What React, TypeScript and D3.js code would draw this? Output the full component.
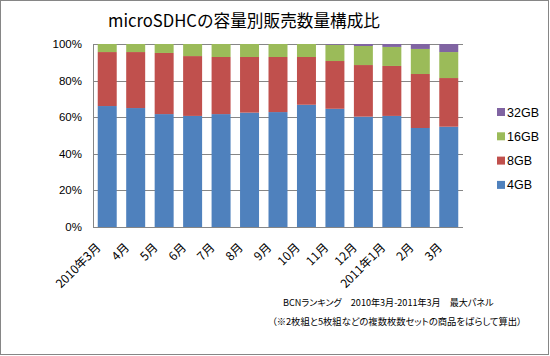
import React, { useLayoutEffect, useRef, useState } from "react";
import * as d3 from "d3";

const categories = ["2010年3月", "4月", "5月", "6月", "7月", "8月", "9月", "10月", "11月", "12月", "2011年1月", "2月", "3月"];
const series = ["4GB", "8GB", "16GB", "32GB"];
const gb4 = [66.1, 65.0, 61.7, 60.7, 61.7, 62.5, 62.8, 66.8, 64.6, 60.3, 60.7, 54.1, 54.8];
const gb8 = [29.5, 30.6, 33.4, 32.7, 31.2, 30.4, 30.1, 26.1, 26.1, 28.2, 27.3, 29.5, 26.6];
const gb16 = [4.4, 4.4, 4.9, 6.6, 7.1, 7.1, 7.1, 7.1, 8.9, 10.4, 10.4, 13.7, 14.2];
const gb32 = [0, 0, 0, 0, 0, 0, 0, 0, 0.4, 1.1, 1.6, 2.7, 4.4];
const yTicks = [0, 20, 40, 60, 80, 100];
const colors = ["#4F81BD", "#C0504D", "#9BBB59", "#8064A2"];
const title = "microSDHCの容量別販売数量構成比";
const note1 = "BCNランキング　2010年3月-2011年3月　最大パネル";
const note2 = "（※2枚組と5枚組などの複数枚数セットの商品をばらして算出）";

const JP = "'Noto Sans CJK JP', 'Liberation Sans', sans-serif";
const LAT = "'Liberation Sans', Arial, sans-serif";

function FitText({ x, y, target, base, children }: { x: number; y: number; target: number; base: number; children: string }) {
  const ref = useRef<SVGTextElement>(null);
  const [size, setSize] = useState(base);
  useLayoutEffect(() => {
    if (ref.current) {
      const len = ref.current.getComputedTextLength();
      if (len > 0) setSize(Math.min(base, (base * target) / len));
    }
  }, []);
  return (
    <text ref={ref} x={x} y={y} fontFamily={JP} fontSize={size} style={{ fontFeatureSettings: "'palt'" }}>{children}</text>
  );
}

export default function App() {
  const W = 550, H = 356;
  const left = 93, right = 463, top = 44, bottom = 227;
  const rows = categories.map((c, i) => ({ cat: c, "4GB": gb4[i], "8GB": gb8[i], "16GB": gb16[i], "32GB": gb32[i] }));
  const stacked = d3.stack<any>().keys(series)(rows);
  const x = d3.scaleBand<string>().domain(categories).range([left, right]).paddingInner(0.333).paddingOuter(0.1665);
  const y = d3.scaleLinear().domain([0, 100]).range([bottom, top]);
  const legendOrder = [3, 2, 1, 0];
  return (
    <svg width={W} height={H} style={{ position: "absolute", left: 0, top: 0 }}>
      <rect x={0} y={0} width={W} height={H} fill="#fff" />
      <rect x={0.5} y={0.5} width={548} height={354} fill="none" stroke="#868686" strokeWidth={1} />
      <text x={244} y={27} textAnchor="middle" fontFamily={JP} fontSize={17} textLength={272} lengthAdjust="spacingAndGlyphs">{title}</text>
      {yTicks.map((t) => (
        <g key={t}>
          <line x1={left} x2={right} y1={Math.round(y(t)) + 0.5} y2={Math.round(y(t)) + 0.5} stroke="#868686" strokeWidth={1} />
          <text x={82} y={y(t) + 4} textAnchor="end" fontFamily={LAT} fontSize={11.5}>{t}%</text>
        </g>
      ))}
      {stacked.map((s, si) => (
        <g key={s.key} fill={colors[si]}>
          {s.map((d, i) => (
            <rect key={i} x={x(categories[i])} width={x.bandwidth()} y={y(d[1])} height={Math.max(0, y(d[0]) - y(d[1]))} />
          ))}
        </g>
      ))}
      <line x1={left + 0.5} x2={left + 0.5} y1={top} y2={bottom + 0.5} stroke="#868686" />
      <line x1={left} x2={right} y1={bottom + 0.5} y2={bottom + 0.5} stroke="#868686" />
      {categories.map((c) => {
        const cx = (x(c) as number) + x.bandwidth() / 2;
        return (
          <text key={c} transform={`translate(${cx - 8},${246}) rotate(-45)`} textAnchor="end" dominantBaseline="middle" fontFamily={JP} fontSize={12}>{c}</text>
        );
      })}
      {legendOrder.map((si, k) => (
        <g key={series[si]} transform={`translate(497,${112 + k * 24.3})`}>
          <rect x={0} y={-4} width={8} height={8} fill={colors[si]} />
          <text x={10} y={4.5} fontFamily={LAT} fontSize={12.5}>{series[si]}</text>
        </g>
      ))}
      <FitText x={283} y={306} target={211} base={12}>{note1}</FitText>
      <FitText x={272} y={325} target={250} base={12}>{note2}</FitText>
    </svg>
  );
}
